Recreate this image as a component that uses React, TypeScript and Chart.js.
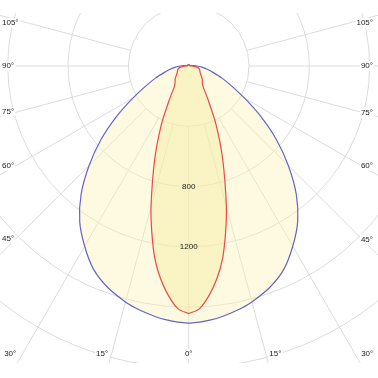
import React, { useEffect, useRef } from "react";
import { Chart, registerables } from "chart.js";

Chart.register(...registerables);

// Gamma angles (degrees from nadir) for the intensity profiles
const ANGLES = [
  0, 2.5, 5, 7.5, 10, 12.5, 15, 20, 25, 30, 35, 40, 45, 50, 55, 60, 65, 70, 75, 80, 85, 90,
  95, 100, 105, 110, 115, 120, 125, 130, 135, 140, 145, 150, 155, 160, 165, 170, 175, 180,
];
// C0-C180 plane (blue), cd/klm
const C0_C180 = [
  1705, 1700, 1690, 1677, 1660, 1642, 1620, 1565, 1490, 1380, 1260, 1110, 935, 760, 585, 430, 315, 235, 170, 125, 88, 55,
  30, 18, 12, 9, 8, 8, 8, 8, 8, 8, 8, 8, 8, 8, 8, 8, 8, 8,
];
// C90-C270 plane (red), cd/klm
const C90_C270 = [
  1642, 1612, 1530, 1425, 1295, 1130, 965, 660, 430, 255, 165, 140, 128, 112, 98, 88, 82, 78, 72, 62, 42, 20,
  12, 9, 8, 8, 8, 8, 8, 8, 8, 8, 8, 8, 8, 8, 8, 8, 8, 8,
];
// Rings of the polar grid and their labels
const RING_VALUES = [400, 800, 1200, 1600, 2000, 2400];
const RING_LABELS = ["", "800", "1200", "", "", ""];
// Spokes of the polar grid and their labels
const SPOKE_ANGLES = [0, 15, 30, 45, 60, 75, 90, 105];
const SPOKE_LABELS = ["0°", "15°", "30°", "45°", "60°", "75°", "90°", "105°"];

// layout
const W = 378;
const H = 378;
const AREA_TOP = 13;
const AREA_BOTTOM = 363;
const CX = 188.7;
const CY = 66;
const PX_PER_CD = 0.1508;

const X_MIN = -CX / PX_PER_CD;
const X_MAX = (W - CX) / PX_PER_CD;
const Y_MAX = (CY - AREA_TOP) / PX_PER_CD;
const Y_MIN = -(AREA_BOTTOM - CY) / PX_PER_CD;

const rad = (d: number) => (d * Math.PI) / 180;

function toLoop(values: number[]) {
  const pts: { x: number; y: number }[] = [];
  for (let i = 0; i < ANGLES.length; i++) {
    const a = rad(ANGLES[i]);
    pts.push({ x: values[i] * Math.sin(a), y: -values[i] * Math.cos(a) });
  }
  for (let i = ANGLES.length - 2; i >= 0; i--) {
    const a = rad(ANGLES[i]);
    pts.push({ x: -values[i] * Math.sin(a), y: -values[i] * Math.cos(a) });
  }
  return pts;
}

const FONT = '8px "Liberation Sans", Arial, sans-serif';

function spokeEnd(cx: number, cy: number, dx: number, dy: number, area: any) {
  const tSide = dx > 0 ? (area.right - cx) / dx : dx < 0 ? (cx - area.left) / -dx : Infinity;
  const tV = dy > 0 ? (area.bottom - cy) / dy : dy < 0 ? (cy - area.top) / -dy : Infinity;
  const t = Math.min(tSide, tV);
  return { x: cx + dx * t, y: cy + dy * t, edge: tV <= tSide ? (dy > 0 ? "bottom" : "top") : "side" };
}

const polarGrid = {
  id: "polarGrid",
  beforeDatasetsDraw(chart: any) {
    const { ctx, chartArea, scales } = chart;
    const xs = scales.x;
    const ys = scales.y;
    const cx = xs.getPixelForValue(0);
    const cy = ys.getPixelForValue(0);
    const k = xs.getPixelForValue(1000) - cx;
    ctx.save();
    ctx.beginPath();
    ctx.rect(chartArea.left, chartArea.top, chartArea.right - chartArea.left, chartArea.bottom - chartArea.top);
    ctx.clip();
    ctx.strokeStyle = "#dcdcdc";
    ctx.lineWidth = 1;
    RING_VALUES.forEach((v) => {
      ctx.beginPath();
      ctx.arc(cx, cy, (v * k) / 1000, 0, Math.PI * 2);
      ctx.stroke();
    });
    const r0 = (RING_VALUES[0] * k) / 1000;
    SPOKE_ANGLES.forEach((a) => {
      [-1, 1].forEach((side) => {
        if (a === 0 && side === -1) return;
        const dx = side * Math.sin(rad(a));
        const dy = Math.cos(rad(a));
        const end = spokeEnd(cx, cy, dx, dy, chartArea);
        ctx.beginPath();
        ctx.moveTo(cx + dx * r0, cy + dy * r0);
        ctx.lineTo(end.x, end.y);
        ctx.stroke();
      });
    });
    ctx.restore();
  },
  afterDatasetsDraw(chart: any) {
    const { ctx, chartArea, scales } = chart;
    const xs = scales.x;
    const ys = scales.y;
    const cx = xs.getPixelForValue(0);
    const cy = ys.getPixelForValue(0);
    ctx.save();
    ctx.font = FONT;
    ctx.fillStyle = "#222";
    ctx.textBaseline = "middle";
    ctx.textAlign = "center";
    RING_VALUES.forEach((v, i) => {
      if (!RING_LABELS[i]) return;
      ctx.fillText(RING_LABELS[i], cx, ys.getPixelForValue(-v));
    });
    SPOKE_ANGLES.forEach((a, i) => {
      [-1, 1].forEach((side) => {
        if (a === 0 && side === -1) return;
        const dx = side * Math.sin(rad(a));
        const dy = Math.cos(rad(a));
        const end = spokeEnd(cx, cy, dx, dy, chartArea);
        const label = SPOKE_LABELS[i];
        const w = ctx.measureText(label).width;
        let tx: number;
        let ty: number;
        let align: CanvasTextAlign;
        if (end.edge === "bottom") {
          ty = chartArea.bottom - 9;
          if (a === 0) {
            tx = end.x;
            align = "center";
          } else if (side < 0) {
            tx = end.x - 1;
            align = "right";
          } else {
            tx = end.x + 1;
            align = "left";
          }
        } else {
          const xProbe = side < 0 ? chartArea.left + 16 : chartArea.right - 16;
          ty = cy + (dy / Math.abs(dx)) * Math.abs(xProbe - cx);
          ty = Math.max(ty, chartArea.top + 10);
          if (side < 0) {
            tx = chartArea.left + 2;
            align = "left";
          } else {
            tx = chartArea.right - 5;
            align = "right";
          }
        }
        const left = align === "left" ? tx : align === "right" ? tx - w : tx - w / 2;
        ctx.fillStyle = "#fff";
        ctx.fillRect(left - 1, ty - 5, w + 2, 10);
        ctx.fillStyle = "#222";
        ctx.textAlign = align;
        ctx.fillText(label, tx, ty);
      });
    });
    ctx.restore();
  },
};

export default function App() {
  const ref = useRef<HTMLCanvasElement>(null);
  useEffect(() => {
    const canvas = ref.current;
    if (!canvas) return;
    const chart = new Chart(canvas, {
      type: "scatter",
      data: {
        datasets: [
          {
            label: "C90-C270",
            data: toLoop(C90_C270),
            showLine: true,
            borderColor: "#ee4848",
            borderWidth: 1.2,
            backgroundColor: "rgba(247, 236, 160, 0.45)",
            fill: "shape",
            pointRadius: 0,
            tension: 0.3,
          },
          {
            label: "C0-C180",
            data: toLoop(C0_C180),
            showLine: true,
            borderColor: "#6464c8",
            borderWidth: 1.2,
            backgroundColor: "rgba(250, 242, 180, 0.4)",
            fill: "shape",
            pointRadius: 0,
            tension: 0.3,
          },
        ],
      } as any,
      options: {
        animation: false,
        responsive: false,
        devicePixelRatio: 1,
        events: [],
        layout: { padding: { top: AREA_TOP, bottom: H - AREA_BOTTOM, left: 0, right: 0 } },
        plugins: { legend: { display: false }, tooltip: { enabled: false } },
        scales: {
          x: { type: "linear", min: X_MIN, max: X_MAX, display: false },
          y: { type: "linear", min: Y_MIN, max: Y_MAX, display: false },
        },
      } as any,
      plugins: [polarGrid as any],
    });
    return () => chart.destroy();
  }, []);
  return (
    <div style={{ position: "fixed", left: 0, top: 0, width: W, height: H, background: "#fff" }}>
      <canvas ref={ref} width={W} height={H} style={{ width: W, height: H, display: "block" }} />
    </div>
  );
}
